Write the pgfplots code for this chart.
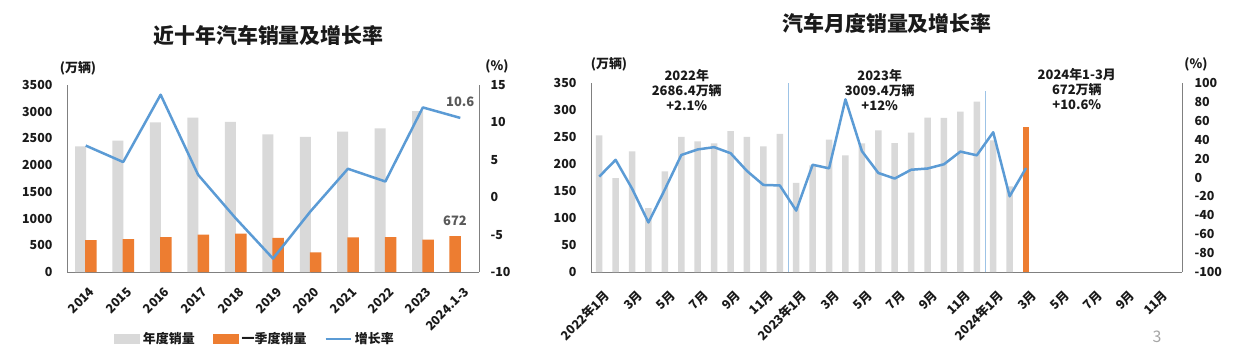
\documentclass[border=0pt]{standalone}
\usepackage{fontspec}
\setmainfont{Noto Sans CJK SC}
\usepackage{pgfplots}
\pgfplotsset{compat=1.18}
\definecolor{barGrey}{HTML}{D9D9D9}
\definecolor{barOrange}{HTML}{ED7D31}
\definecolor{lineBlue}{HTML}{5B9BD5}
\definecolor{axisGrey}{HTML}{808080}
\definecolor{sepBlue}{HTML}{9DC3E6}
\definecolor{labGrey}{HTML}{595959}
\definecolor{txt}{HTML}{1A1A1A}

\pgfplotsset{
  base/.style={
    scale only axis,
    /pgf/number format/assume math mode=true,
    /pgf/number format/1000 sep={},
    tick label style={font=\fontsize{12.5}{14}\selectfont\bfseries, text=txt},
    major tick length=0pt, minor tick length=0pt,
    axis line style={axisGrey, line width=1bp},
    clip=false,
  },
}

\begin{document}
\begin{tikzpicture}[x=1bp,y=1bp]
\useasboundingbox (0,0) rectangle (1255,363);
\fill[white] (0,0) rectangle (1255,363);

% ---------------- Left chart ----------------
\node[font=\fontsize{21}{24}\selectfont\bfseries, text=txt] at (268.5,328) {近十年汽车销量及增长率};
\node[font=\fontsize{13}{15}\selectfont\bfseries, text=txt] at (78,295) {(万辆)};
\node[font=\fontsize{13}{15}\selectfont\bfseries, text=txt] at (497,297) {(\%)};

\begin{axis}[base,
  at={(67bp,91bp)}, anchor=south west, width=412bp, height=187bp,
  xmin=-0.5, xmax=10.5, ymin=0, ymax=3500,
  ytick={0,500,...,3500},
  axis x line*=bottom, axis y line*=left,
  xtick={0,...,10},
  xticklabels={2014,2015,2016,2017,2018,2019,2020,2021,2022,2023,2024.1-3},
  xticklabel style={inner sep=0pt, xshift=3bp, yshift=-14bp, rotate=45, anchor=north east},
  yticklabel style={xshift=-11bp},
  legend columns=3,
  legend style={at={(0.456,-0.358)}, anchor=center, draw=none, fill=none,
    font=\fontsize{13}{15}\selectfont\bfseries, text=txt,
    /tikz/every even column/.append style={column sep=16bp},
    /tikz/every odd column/.append style={column sep=1bp}},
]
\addplot[ybar, bar width=11bp, bar shift=0pt, fill=barGrey, draw=none,
  legend image code/.code={\fill[barGrey] (0bp,-5bp) rectangle (26bp,5bp);}]
  coordinates {(-0.139,2349.2) (0.861,2459.8) (1.861,2802.8) (2.861,2887.9) (3.861,2808.1)
               (4.861,2576.9) (5.861,2531.1) (6.861,2627.5) (7.861,2686.4) (8.861,3009.4)};
\addlegendentry{年度销量}
\addplot[ybar, bar width=11.5bp, bar shift=0pt, fill=barOrange, draw=none,
  legend image code/.code={\fill[barOrange] (0bp,-5bp) rectangle (26bp,5bp);}]
  coordinates {(0.139,598.7) (1.139,617.6) (2.139,651.9) (3.139,700.1) (4.139,718.8)
               (5.139,637.2) (6.139,367.2) (7.139,648.4) (8.139,650.9) (9.139,607.6) (9.86,672)};
\addlegendentry{一季度销量}
\addlegendimage{lineBlue, line width=2.5bp, legend image code/.code={\draw[lineBlue, line width=2.5bp] (0bp,0bp) -- (25bp,0bp);}}
\addlegendentry{增长率}
\node[anchor=south, font=\fontsize{13}{15}\selectfont\bfseries, text=labGrey, yshift=7bp] at (axis cs:9.86,672) {672};
\end{axis}

\begin{axis}[base,
  at={(67bp,91bp)}, anchor=south west, width=412bp, height=187bp,
  xmin=-0.5, xmax=10.5, ymin=-10, ymax=15,
  ytick={-10,-5,0,5,10,15},
  axis y line*=right, axis x line=none,
  yticklabel style={anchor=west, xshift=8bp},
]
\addplot[lineBlue, line width=2.5bp, mark=none, line join=round]
  coordinates {(0,6.9) (1,4.7) (2,13.7) (3,3.0) (4,-2.8) (5,-8.2) (6,-1.9) (7,3.8) (8,2.1) (9,12.0) (10,10.6)};
\node[anchor=south, font=\fontsize{13}{15}\selectfont\bfseries, text=labGrey, yshift=8bp] at (axis cs:10,10.6) {10.6};
\end{axis}

% ---------------- Right chart ----------------
\node[font=\fontsize{21}{24}\selectfont\bfseries, text=txt] at (887,340) {汽车月度销量及增长率};
\node[font=\fontsize{13}{15}\selectfont\bfseries, text=txt] at (609,299) {(万辆)};
\node[font=\fontsize{13}{15}\selectfont\bfseries, text=txt] at (1196,299) {(\%)};

\begin{axis}[base,
  at={(591bp,91bp)}, anchor=south west, width=591bp, height=189bp,
  xmin=-0.5, xmax=35.5, ymin=0, ymax=350,
  ytick={0,50,...,350},
  axis x line*=bottom, axis y line*=left,
  xtick={0,2,...,34},
  xticklabels={2022年1月,3月,5月,7月,9月,11月,2023年1月,3月,5月,7月,9月,11月,2024年1月,3月,5月,7月,9月,11月},
  xticklabel style={inner sep=0pt, xshift=4bp, yshift=-17bp, rotate=45, anchor=north east},
  yticklabel style={xshift=-11bp},
]
\addplot[ybar, bar width=6.5bp, bar shift=0pt, fill=barGrey, draw=none]
  coordinates {(0,253.1) (1,173.7) (2,223.4) (3,118.1) (4,186.2) (5,250.2) (6,242.0) (7,238.3)
    (8,261.0) (9,250.1) (10,232.6) (11,255.6) (12,164.9) (13,197.6) (14,245.1) (15,215.9)
    (16,238.2) (17,262.2) (18,238.7) (19,258.2) (20,285.8) (21,285.3) (22,297.0) (23,315.6)
    (24,243.9) (25,158.4)};
\addplot[ybar, bar width=6.5bp, bar shift=0pt, fill=barOrange, draw=none]
  coordinates {(26,269.4)};
\addplot[sepBlue, line width=0.8bp] coordinates {(11.5,0) (11.5,350)};
\addplot[sepBlue, line width=0.8bp] coordinates {(23.5,0) (23.5,336)};
\node[align=center, font=\fontsize{13}{15}\selectfont\bfseries, text=txt] at (rel axis cs:0.162,0.963) {2022年\\2686.4万辆\\+2.1\%};
\node[align=center, font=\fontsize{13}{15}\selectfont\bfseries, text=txt] at (rel axis cs:0.4885,0.963) {2023年\\3009.4万辆\\+12\%};
\node[align=center, font=\fontsize{13}{15}\selectfont\bfseries, text=txt] at (rel axis cs:0.822,0.968) {2024年1-3月\\672万辆\\+10.6\%};
\end{axis}

\begin{axis}[base,
  at={(591bp,91bp)}, anchor=south west, width=591bp, height=189bp,
  xmin=-0.5, xmax=35.5, ymin=-100, ymax=100,
  ytick={-100,-80,...,100},
  axis y line*=right, axis x line=none,
  yticklabel style={anchor=west, xshift=9bp},
]
\addplot[lineBlue, line width=2.5bp, mark=none, line join=round]
  coordinates {(0,0.9) (1,18.7) (2,-11.7) (3,-47.6) (4,-12.6) (5,23.8) (6,29.7) (7,32.1)
    (8,25.7) (9,6.9) (10,-7.9) (11,-8.4) (12,-35.0) (13,13.5) (14,9.7) (15,82.7)
    (16,27.9) (17,4.8) (18,-1.1) (19,8.2) (20,9.5) (21,14.0) (22,27.4) (23,23.5)
    (24,47.9) (25,-19.9) (26,10.0)};
\end{axis}

\node[font=\fontsize{16}{18}\selectfont, text=gray!70] at (1157,26) {3};
\end{tikzpicture}
\end{document}
